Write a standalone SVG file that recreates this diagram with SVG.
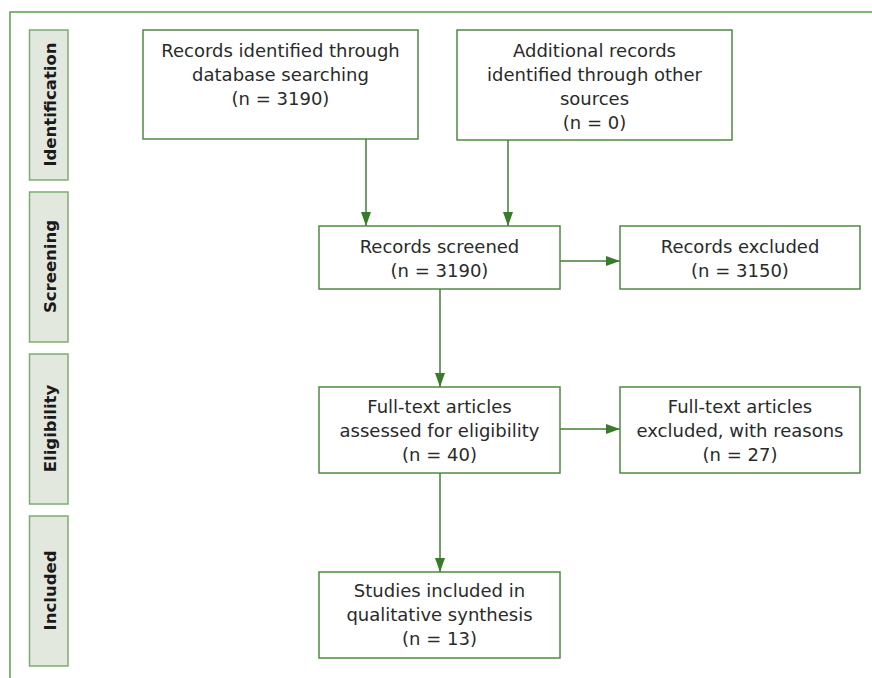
<svg xmlns="http://www.w3.org/2000/svg" width="872" height="678" viewBox="0 0 872 678">
<defs>
<style>
.frame{fill:none;stroke:#5f9a52;stroke-width:1.5}
.side{fill:#e2e8de;stroke:#7dad70;stroke-width:1.5}
.sidet{font-family:"DejaVu Sans","Liberation Sans",sans-serif;font-weight:bold;font-size:16.5px;fill:#1a1a1a;text-anchor:middle}
.box{fill:#ffffff;stroke:#4f8a40;stroke-width:1.5}
.t{font-family:"DejaVu Sans","Liberation Sans",sans-serif;font-size:18px;fill:#2a2a2a;text-anchor:middle}
.conn{fill:none;stroke:#3f7f30;stroke-width:1.5}
</style>
<marker id="ah" viewBox="0 0 14 10" refX="14" refY="5" markerWidth="14" markerHeight="10" markerUnits="userSpaceOnUse" orient="auto">
<path d="M0,0 L14,5 L0,10 Z" fill="#3a7a2b"/>
</marker>
</defs>
<rect width="872" height="678" fill="#ffffff"/>
<path class="frame" d="M10,678 L10,12 L872,12"/>

<g id="phase-identification">
<rect class="side" x="29.5" y="30" width="38.5" height="150"/>
<text class="sidet" transform="translate(56,104.5) rotate(-90)">Identification</text>
</g>
<g id="phase-screening">
<rect class="side" x="29.5" y="192" width="38.5" height="150"/>
<text class="sidet" transform="translate(56,266.5) rotate(-90)">Screening</text>
</g>
<g id="phase-eligibility">
<rect class="side" x="29.5" y="354" width="38.5" height="150"/>
<text class="sidet" transform="translate(56,428.5) rotate(-90)">Eligibility</text>
</g>
<g id="phase-included">
<rect class="side" x="29.5" y="516" width="38.5" height="150"/>
<text class="sidet" transform="translate(56,590.5) rotate(-90)">Included</text>
</g>

<g id="connectors">
<line class="conn" x1="366" y1="139" x2="366" y2="226" marker-end="url(#ah)"/>
<line class="conn" x1="508" y1="140" x2="508" y2="226" marker-end="url(#ah)"/>
<line class="conn" x1="560" y1="261" x2="620" y2="261" marker-end="url(#ah)"/>
<line class="conn" x1="440" y1="289" x2="440" y2="387" marker-end="url(#ah)"/>
<line class="conn" x1="560" y1="429" x2="620" y2="429" marker-end="url(#ah)"/>
<line class="conn" x1="440" y1="473" x2="440" y2="572" marker-end="url(#ah)"/>
</g>

<g id="records-identified">
<rect class="box" x="143" y="30" width="275" height="109"/>
<text class="t" x="280.5" y="57">Records identified through</text>
<text class="t" x="280.5" y="81">database searching</text>
<text class="t" x="280.5" y="105">(n = 3190)</text>
</g>
<g id="additional-records">
<rect class="box" x="457" y="30" width="275" height="110"/>
<text class="t" x="594.5" y="57">Additional records</text>
<text class="t" x="594.5" y="81">identified through other</text>
<text class="t" x="594.5" y="105">sources</text>
<text class="t" x="594.5" y="129">(n = 0)</text>
</g>
<g id="records-screened">
<rect class="box" x="319" y="226" width="241" height="63"/>
<text class="t" x="439.5" y="253">Records screened</text>
<text class="t" x="439.5" y="277">(n = 3190)</text>
</g>
<g id="records-excluded">
<rect class="box" x="620" y="226" width="240" height="63"/>
<text class="t" x="740" y="253">Records excluded</text>
<text class="t" x="740" y="277">(n = 3150)</text>
</g>
<g id="fulltext-assessed">
<rect class="box" x="319" y="387" width="241" height="86"/>
<text class="t" x="439.5" y="413">Full-text articles</text>
<text class="t" x="439.5" y="437">assessed for eligibility</text>
<text class="t" x="439.5" y="461">(n = 40)</text>
</g>
<g id="fulltext-excluded">
<rect class="box" x="620" y="387" width="240" height="86"/>
<text class="t" x="740" y="413">Full-text articles</text>
<text class="t" x="740" y="437">excluded, with reasons</text>
<text class="t" x="740" y="461">(n = 27)</text>
</g>
<g id="studies-included">
<rect class="box" x="319" y="572" width="241" height="86"/>
<text class="t" x="439.5" y="597">Studies included in</text>
<text class="t" x="439.5" y="621">qualitative synthesis</text>
<text class="t" x="439.5" y="645">(n = 13)</text>
</g>
</svg>
